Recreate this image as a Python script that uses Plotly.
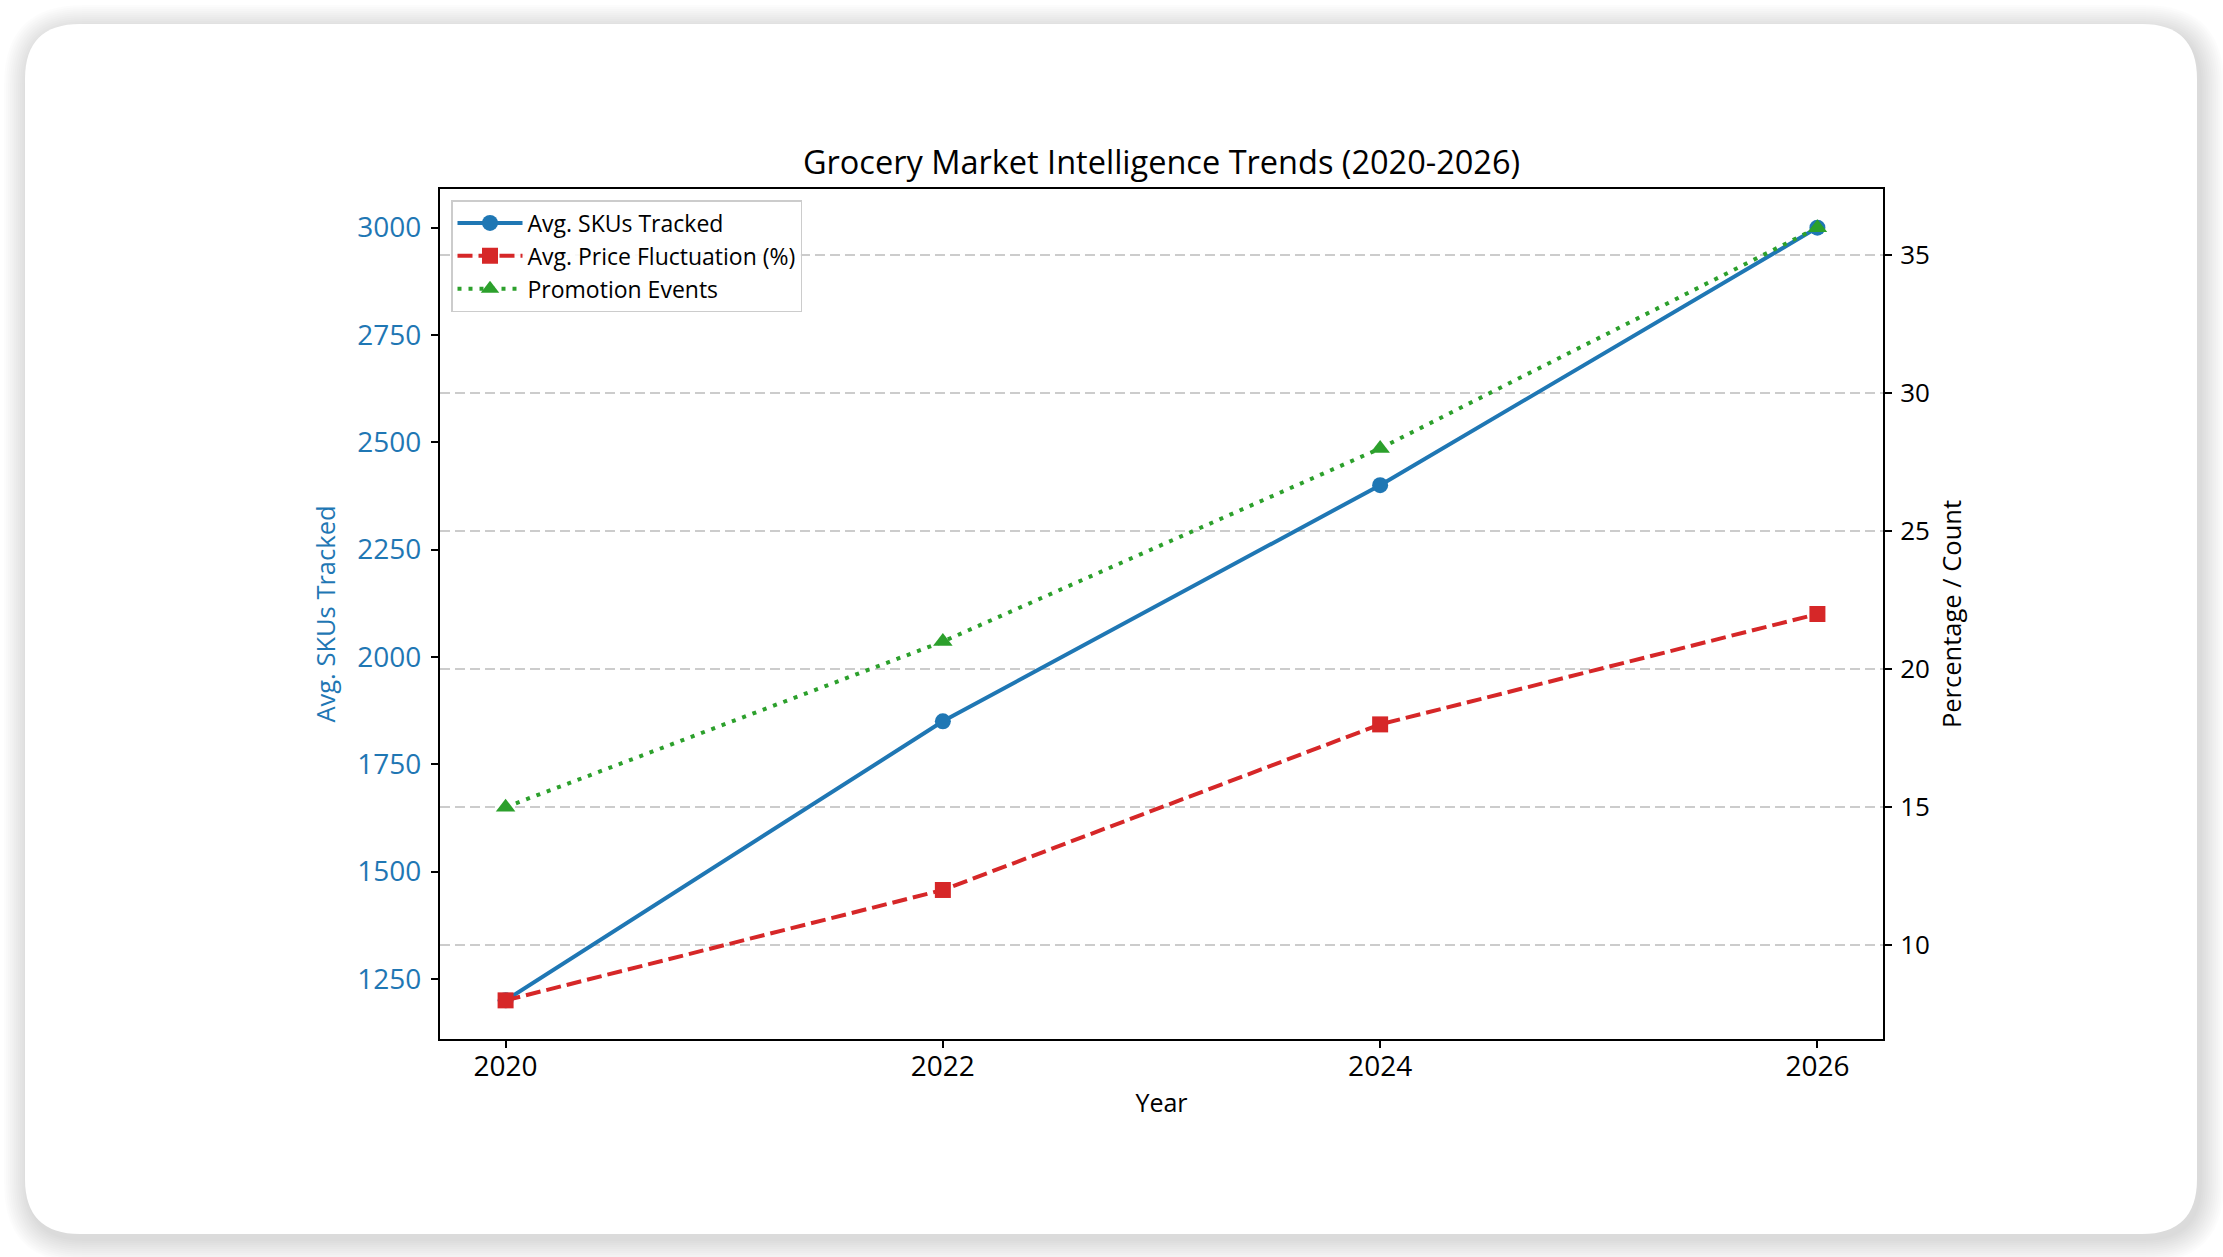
import plotly.graph_objects as go

years = [2020, 2022, 2024, 2026]
skus_tracked = [1200, 1850, 2400, 3000]
price_fluctuation = [8, 12, 18, 22]
promotion_events = [15, 21, 28, 36]

title_text = "Grocery Market Intelligence Trends (2020-2026)"
x_title = "Year"
y_title = "Avg. SKUs Tracked"
y2_title = "Percentage / Count"

W, H = 2223, 1257
L, R, T, B = 440, 1883, 189, 1039  # plot area in pixels
FONT = "Open Sans"
BLUE, RED, GREEN = "#1f77b4", "#d62728", "#2ca02c"


def px_to_paper(x, y):
    return (x - L) / (R - L), (B - y) / (B - T)


def rounded_rect(x0, y0, x1, y1, r):
    def p(x, y):
        px, py = px_to_paper(x, y)
        return f"{px:.5f},{py:.5f}"
    d = f"M {p(x0 + r, y0)} L {p(x1 - r, y0)} Q {p(x1, y0)} {p(x1, y0 + r)} "
    d += f"L {p(x1, y1 - r)} Q {p(x1, y1)} {p(x1 - r, y1)} "
    d += f"L {p(x0 + r, y1)} Q {p(x0, y1)} {p(x0, y1 - r)} "
    d += f"L {p(x0, y0 + r)} Q {p(x0, y0)} {p(x0 + r, y0)} Z"
    return d


shapes = []
# soft shadow
for i in range(12, 0, -1):
    g = i * 2.0
    shapes.append(dict(type="path", xref="paper", yref="paper", layer="below",
                       path=rounded_rect(25 - g + 3, 24 - g + 5, 2197 + g + 3, 1234 + g + 5, 55 + g),
                       fillcolor="rgba(0,0,0,0.012)", line=dict(width=0)))
# card
shapes.append(dict(type="path", xref="paper", yref="paper", layer="below",
                   path=rounded_rect(25, 24, 2197, 1234, 55),
                   fillcolor="white", line=dict(width=0)))

fig = go.Figure()
fig.add_trace(go.Scatter(x=years, y=skus_tracked, name="Avg. SKUs Tracked",
                         mode="lines+markers", yaxis="y",
                         line=dict(color=BLUE, width=4),
                         marker=dict(symbol="circle", size=16, color=BLUE)))
fig.add_trace(go.Scatter(x=years, y=price_fluctuation, name="Avg. Price Fluctuation (%)",
                         mode="lines+markers", yaxis="y2",
                         line=dict(color=RED, width=4, dash="15px,6px"),
                         marker=dict(symbol="square", size=16, color=RED)))
fig.add_trace(go.Scatter(x=years, y=promotion_events, name="Promotion Events",
                         mode="lines+markers", yaxis="y2",
                         line=dict(color=GREEN, width=4, dash="4px,7px"),
                         marker=dict(symbol="triangle-up", size=17, color=GREEN)))

fig.update_layout(
    width=W, height=H,
    margin=dict(l=L, r=W - R, t=T, b=H - B, autoexpand=False),
    paper_bgcolor="white", plot_bgcolor="white",
    font=dict(family=FONT, color="black", size=24),
    shapes=shapes,
    title=dict(text=title_text, x=0.5, xref="paper", y=1 - 163 / H, yref="container",
               xanchor="center", yanchor="middle", font=dict(size=32.5, color="black")),
    xaxis=dict(range=[2019.7, 2026.3], tickvals=years, ticks="outside", ticklen=7, tickwidth=1.5,
               tickcolor="black", showline=True, linecolor="black", linewidth=2, mirror=True,
               showgrid=False, zeroline=False, tickfont=dict(size=28), ticklabelstandoff=-6,
               title=dict(text=x_title, font=dict(size=25), standoff=12)),
    yaxis=dict(range=[1110, 3090], tickvals=[1250, 1500, 1750, 2000, 2250, 2500, 2750, 3000],
               ticks="outside", ticklen=7, tickwidth=1.5, tickcolor="black",
               showline=True, linecolor="black", linewidth=2, showgrid=False, zeroline=False,
               tickfont=dict(size=28, color=BLUE), ticklabelstandoff=4,
               title=dict(text=y_title, font=dict(size=25.5, color=BLUE), standoff=14)),
    yaxis2=dict(range=[6.6, 37.4], tickvals=[10, 15, 20, 25, 30, 35], overlaying="y", side="right",
                ticks="outside", ticklen=7, tickwidth=1.5, tickcolor="black",
                showline=True, linecolor="black", linewidth=2,
                showgrid=True, gridcolor="#cccccc", gridwidth=1.5, griddash="10px,5px",
                zeroline=False, tickfont=dict(size=26, color="black"), ticklabelstandoff=3,
                title=dict(text=y2_title, font=dict(size=25.5, color="black"), standoff=14)),
    legend=dict(x=11 / (R - L), y=1 - 11 / (B - T), xanchor="left", yanchor="top",
                bgcolor="rgba(255,255,255,0.85)", bordercolor="#cccccc", borderwidth=1.5,
                font=dict(size=23, color="black"), itemwidth=65, tracegroupgap=0),
    showlegend=True,
)

fig.write_html("out.html", config={"displayModeBar": False},
               post_script="document.body.style.margin='0px';")
